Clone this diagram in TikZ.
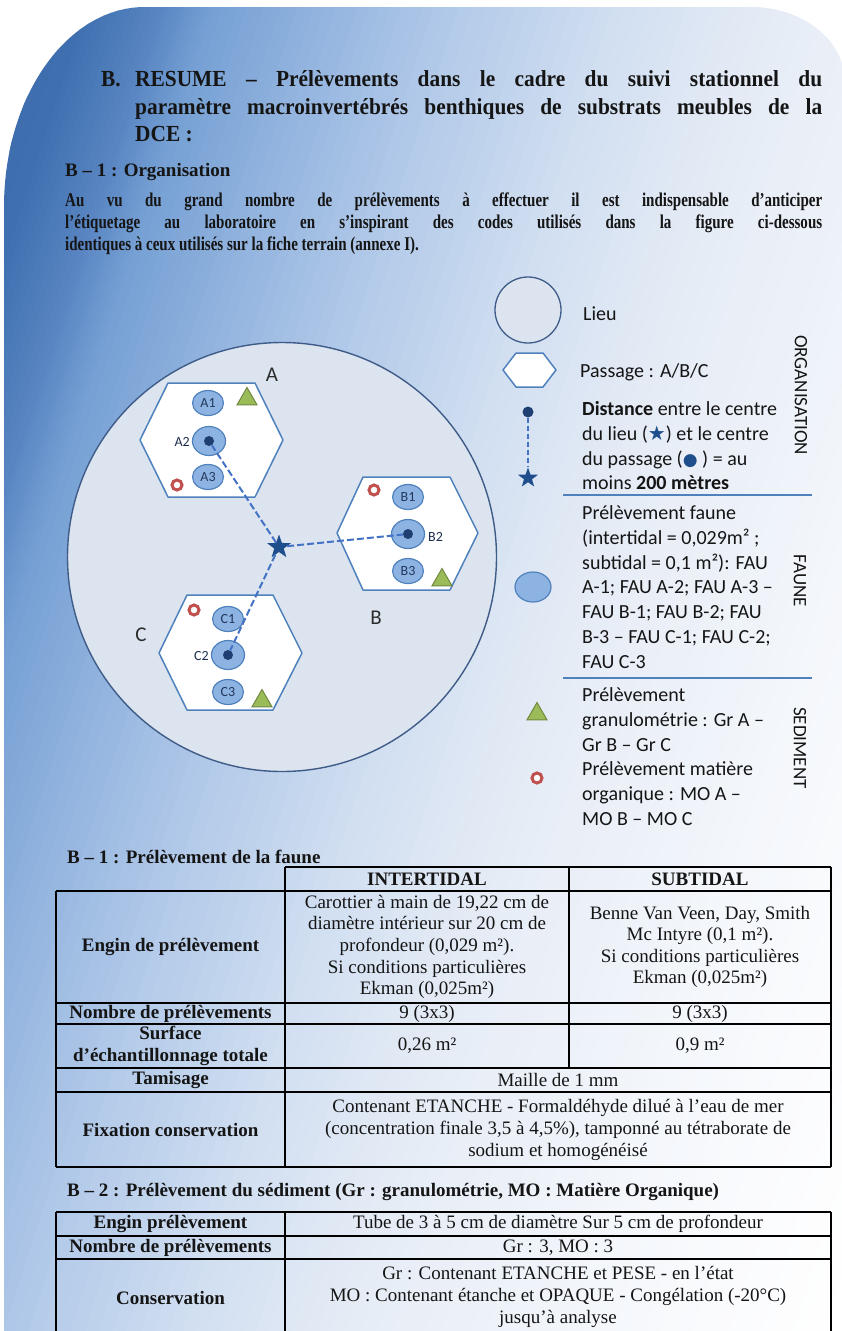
\documentclass[tikz,border=0pt]{standalone}
\usepackage{fontspec}
\setmainfont{Liberation Serif}
\newfontfamily\calfont{Carlito}
\newfontfamily\symfont{DejaVu Sans}
\newfontfamily\condfont[FakeStretch=0.77]{Liberation Serif}
\newfontfamily\headfont[FakeStretch=0.93]{Liberation Serif}
\usetikzlibrary{shapes.geometric}
\definecolor{g0}{HTML}{2F5E9A}
\definecolor{g1}{HTML}{4070B0}
\definecolor{g2}{HTML}{5A87C3}
\definecolor{g3}{HTML}{76A0D4}
\definecolor{g4}{HTML}{90B2DE}
\definecolor{g5}{HTML}{B0C8E8}
\definecolor{g6}{HTML}{D0DEF1}
\definecolor{g7}{HTML}{E4EBF5}
\definecolor{g8}{HTML}{F0F4FA}
\definecolor{g9}{HTML}{FAFBFD}
\definecolor{g10}{HTML}{FFFFFF}
\definecolor{txt}{HTML}{151515}
\definecolor{lieufill}{HTML}{DCE4F0}
\definecolor{lieuline}{HTML}{3F5C88}
\definecolor{hexline}{HTML}{4F81BD}
\definecolor{faufill}{HTML}{8DB3E2}
\definecolor{navy}{HTML}{1F3F73}
\definecolor{lbltxt}{HTML}{24385C}
\definecolor{starblue}{HTML}{1F4E8C}
\definecolor{dashblue}{HTML}{4472C4}
\definecolor{grfill}{HTML}{9BBB59}
\definecolor{grline}{HTML}{71893F}
\definecolor{mored}{HTML}{C0504D}
\definecolor{sepblue}{HTML}{4F81BD}
\begin{document}
\begin{tikzpicture}[x=1pt,y=-1pt,
  tx/.style={inner sep=0pt,text=txt},
  hd/.style={tx,anchor=base west,font=\headfont\fontsize{23}{27}\selectfont\bfseries},
  sub/.style={tx,anchor=base west,font=\fontsize{19}{22}\selectfont\bfseries},
  para/.style={tx,anchor=base west,font=\condfont\fontsize{19.5}{22}\selectfont\bfseries},
  leg/.style={tx,anchor=base west,font=\calfont\fontsize{20}{24.8}\selectfont},
  vert/.style={tx,rotate=-90,font=\calfont\fontsize{19}{22}\selectfont},
  cell/.style={tx,align=center,font=\fontsize{19}{21.6}\selectfont},
  cellb/.style={tx,align=center,font=\fontsize{19}{21.6}\selectfont\bfseries},
  lieu/.style={draw=lieuline,fill=lieufill,line width=1.4pt},
  hexa/.style={draw=hexline,fill=white,line width=1.5pt,line join=round},
  fau/.style={ellipse,draw=hexline,fill=faufill,line width=1.2pt,inner sep=0pt,minimum width=31pt,minimum height=25pt,text=lbltxt,font=\calfont\fontsize{14}{14}\selectfont},
  faub/.style={fau,minimum width=33pt,minimum height=29pt},
  cdot/.style={circle,fill=navy,inner sep=0pt,minimum size=10pt},
  starn/.style={star,star points=5,star point ratio=2.5,fill=starblue,inner sep=0pt,minimum size=25pt},
  dashl/.style={draw=dashblue,line width=2pt,dash pattern=on 7pt off 3pt},
  grtri/.style={regular polygon,regular polygon sides=3,draw=grline,fill=grfill,line width=1pt,inner sep=0pt,minimum size=23pt},
  moring/.style={circle,draw=mored,line width=3pt,fill=white,inner sep=0pt,minimum size=10pt},
  small/.style={tx,text=lbltxt!80!black,font=\calfont\fontsize{14}{14}\selectfont},
  big/.style={tx,text=txt!90,font=\calfont\fontsize{21}{21}\selectfont},
  sep/.style={draw=sepblue,line width=1.5pt},
  tbl/.style={draw=black,line width=1.3pt}
]
\useasboundingbox (0,0) rectangle (841,1331);
\fill[white] (0,0) rectangle (841,1331);
\begin{scope}
\clip (4,1340) -- (4,207) arc[start angle=180,end angle=270,x radius=141,y radius=200] -- (751,7) arc[start angle=270,end angle=360,x radius=94,y radius=75] -- (845,1340) -- cycle;
\foreach \pa/\pb/\ca/\cb in {-700/-520/g0/g1, -520/-447/g1/g2, -447/-400/g2/g3, -400/-304/g3/g4, -304/-180/g4/g5, -180/-20/g5/g6, -20/120/g6/g7, 120/300/g7/g8, 300/480/g8/g9, 480/600/g9/g10, 600/760/g10/g10}{
  \foreach \k in {0,...,11}{
    \pgfmathsetmacro\xa{\pa+(\pb-\pa)*\k/12}
    \pgfmathsetmacro\xb{\pa+(\pb-\pa)*(\k+1)/12+1}
    \pgfmathsetmacro\mix{100*(\k+0.5)/12}
    \fill[\cb!\mix!\ca,shift={(420,665)},rotate=-18] (\xa,-1300) rectangle (\xb,1300);
  }
}
\end{scope}

% heading
\node[hd] (hB) at (101,86) {B.};
\node[hd] (h1) at (135,86) {\makebox[687pt][s]{RESUME – Prélèvements dans le cadre du suivi stationnel du}};
\node[hd] (h2) at (135,114) {\makebox[687pt][s]{paramètre macroinvertébrés benthiques de substrats meubles de la}};
\node[hd] (h3) at (135,141) {DCE :};
\node[sub] (s1) at (65,176) {B – 1 : Organisation};
\node[para] (p1) at (65,206) {\makebox[757pt][s]{Au vu du grand nombre de prélèvements à effectuer il est indispensable d’anticiper}};
\node[para] (p2) at (65,228) {\makebox[757pt][s]{l’étiquetage au laboratoire en s’inspirant des codes utilisés dans la figure ci-dessous}};
\node[para] (p3) at (65,250) {identiques à ceux utilisés sur la fiche terrain (annexe I).};

% main diagram
\draw[lieu] (282,557) circle[radius=214.5];
\draw[hexa] (140,440) -- (168,383) -- (255,383) -- (283,440) -- (255,497) -- (168,497) -- cycle;
\draw[hexa] (337,533) -- (363,477) -- (450,477) -- (478,533) -- (450,590) -- (363,590) -- cycle;
\draw[hexa] (159,653) -- (187,595) -- (273,595) -- (302,653) -- (273,710) -- (187,710) -- cycle;

\node[fau] (A1) at (208,403) {A1};
\node[faub] (A2) at (209,441) {};
\node[fau] (A3) at (208,477) {A3};
\node[fau] (B1) at (408,497) {B1};
\node[faub] (B2) at (408,534) {};
\node[fau] (B3) at (408,571) {B3};
\node[fau] (C1) at (228,619) {C1};
\node[faub] (C2) at (228,655) {};
\node[fau] (C3) at (228,692) {C3};
\node[cdot] (a2c) at (A2.center) {};
\node[cdot] (b2c) at (B2.center) {};
\node[cdot] (c2c) at (C2.center) {};
\node[small,anchor=east] (lA2) at (190,442) {A2};
\node[small,anchor=west] (lB2) at (428,537) {B2};
\node[small,anchor=east] (lC2) at (209,656) {C2};

\node[grtri] (gA) at (247,399) {};
\node[grtri] (gB) at (442,580) {};
\node[grtri] (gC) at (262,701) {};
\node[moring] (mA) at (177,485) {};
\node[moring] (mB) at (374,490) {};
\node[moring] (mC) at (194,610) {};

\node[big] (lbA) at (272,375) {A};
\node[big] (lbB) at (376,618) {B};
\node[big] (lbC) at (141,635) {C};

\node[starn] (st) at (279,547) {};
\draw[dashl] (st) -- (a2c);
\draw[dashl] (st) -- (b2c);
\draw[dashl] (st) -- (c2c);

% legend
\draw[lieu,line width=1.3pt] (528,310) circle[radius=33];
\node[leg] (tLieu) at (583,320) {Lieu};
\draw[hexa] (503,370) -- (516,353) -- (543,353) -- (556,370) -- (543,387) -- (516,387) -- cycle;
\node[leg] (tPass) at (580,377) {Passage : A/B/C};
\node[cdot,minimum size=11pt] (ldot) at (528,412) {};
\node[starn,minimum size=21pt] (lstar) at (528,478) {};
\draw[dashl,line width=1.8pt,dash pattern=on 5pt off 3pt] (ldot) -- (lstar);
\node[leg] (d1) at (582,415) {\textbf{Distance} entre le centre};
\node[leg] (d2) at (582,440) {du lieu ({\symfont\fontsize{20}{20}\selectfont\color{starblue}★}) et le centre};
\node[leg] (d3) at (582,465) {du passage ({\symfont\fontsize{17}{17}\selectfont\color{starblue}●} ) = au};
\node[leg] (d4) at (582,489) {moins \textbf{200 mètres}};
\node[vert] (vOrg) at (801,395) {ORGANISATION};
\draw[sep] (563,495) -- (812,495);

\node[fau,minimum width=36pt,minimum height=30pt] (lfau) at (533,587) {};
\node[leg] (f1) at (582,519.5) {Prélèvement faune};
\node[leg] (f2) at (582,544.3) {(intertidal = 0,029m² ;};
\node[leg] (f3) at (582,569.1) {subtidal = 0,1 m²): FAU};
\node[leg] (f4) at (582,593.9) {A-1; FAU A-2; FAU A-3 –};
\node[leg] (f5) at (582,618.7) {FAU B-1; FAU B-2; FAU};
\node[leg] (f6) at (582,643.5) {B-3 – FAU C-1; FAU C-2;};
\node[leg] (f7) at (582,668.3) {FAU C-3};
\node[vert] (vFau) at (800,581) {FAUNE};
\draw[sep] (563,678) -- (812,678);

\node[grtri,minimum size=23pt] (lgr) at (537,714) {};
\node[moring] (lmo) at (537,778) {};
\node[leg] (g1t) at (582,701.5) {Prélèvement};
\node[leg] (g2t) at (582,726.3) {granulométrie : Gr A –};
\node[leg] (g3t) at (582,751.1) {Gr B – Gr C};
\node[leg] (g4t) at (582,775.9) {Prélèvement matière};
\node[leg] (g5t) at (582,800.7) {organique : MO A –};
\node[leg] (g6t) at (582,825.5) {MO B – MO C};
\node[vert] (vSed) at (800,748) {SEDIMENT};

% table 1
\node[sub] (t1) at (67,863) {B – 1 : Prélèvement de la faune};
\draw[tbl] (285,867) -- (831,867);
\draw[tbl] (56,891) -- (831,891);
\draw[tbl] (56,1003) -- (831,1003);
\draw[tbl] (56,1024) -- (831,1024);
\draw[tbl] (56,1068) -- (831,1068);
\draw[tbl] (56,1092) -- (831,1092);
\draw[tbl] (56,1167) -- (831,1167);
\draw[tbl] (56,891) -- (56,1167);
\draw[tbl] (285,867) -- (285,1167);
\draw[tbl] (569,867) -- (569,1068);
\draw[tbl] (831,867) -- (831,1167);
\node[cellb] (hI) at (427,879) {INTERTIDAL};
\node[cellb] (hS) at (700,879) {SUBTIDAL};
\node[cellb] (r1) at (170.5,947) {Engin de prélèvement};
\node[cell] (r1a) at (427,947) {Carottier à main de 19,22 cm de\\diamètre intérieur sur 20 cm de\\profondeur (0,029 m²).\\Si conditions particulières\\Ekman (0,025m²)};
\node[cell] (r1b) at (700,947) {Benne Van Veen, Day, Smith\\Mc Intyre (0,1 m²).\\Si conditions particulières\\Ekman (0,025m²)};
\node[cellb] (r2) at (170.5,1013.5) {Nombre de prélèvements};
\node[cell] (r2a) at (427,1013.5) {9 (3x3)};
\node[cell] (r2b) at (700,1013.5) {9 (3x3)};
\node[cellb] (r3) at (170.5,1046) {Surface\\d'échantillonnage totale};
\node[cell] (r3a) at (427,1046) {0,26 m²};
\node[cell] (r3b) at (700,1046) {0,9 m²};
\node[cellb] (r4) at (170.5,1080) {Tamisage};
\node[cell] (r4a) at (558,1080) {Maille de 1 mm};
\node[cellb] (r5) at (170.5,1130) {Fixation conservation};
\node[cell] (r5a) at (558,1130) {Contenant ETANCHE - Formaldéhyde dilué à l’eau de mer\\(concentration finale 3,5 à 4,5\%), tamponné au tétraborate de\\sodium et homogénéisé};

% table 2
\node[sub] (t2) at (67,1196) {B – 2 : Prélèvement du sédiment (Gr : granulométrie, MO : Matière Organique)};
\draw[tbl] (56,1212) -- (831,1212);
\draw[tbl] (56,1236) -- (831,1236);
\draw[tbl] (56,1259) -- (831,1259);
\draw[tbl] (56,1212) -- (56,1331);
\draw[tbl] (285,1212) -- (285,1331);
\draw[tbl] (831,1212) -- (831,1331);
\node[cellb] (u1) at (170.5,1224) {Engin prélèvement};
\node[cell] (u1a) at (558,1224) {Tube de 3 à 5 cm de diamètre Sur 5 cm de profondeur};
\node[cellb] (u2) at (170.5,1247.5) {Nombre de prélèvements};
\node[cell] (u2a) at (558,1247.5) {Gr : 3, MO : 3};
\node[cellb] (u3) at (170.5,1298) {Conservation};
\node[cell] (u3a) at (558,1297) {Gr : Contenant ETANCHE et PESE - en l’état\\MO : Contenant étanche et OPAQUE - Congélation (-20°C)\\jusqu’à analyse};
\end{tikzpicture}
\end{document}
